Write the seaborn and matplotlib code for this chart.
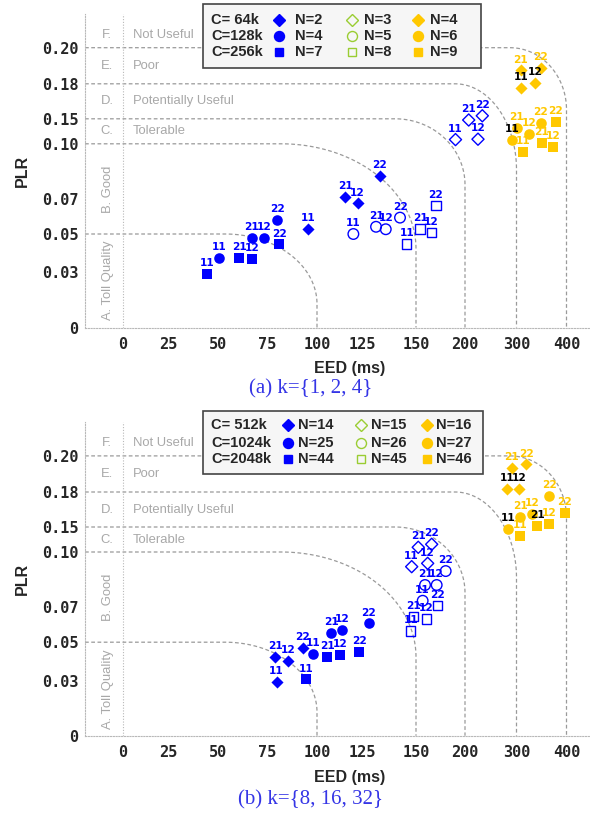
#PLR vs EED scatter, two panels

import numpy as np
import pandas as pd
import matplotlib
matplotlib.use("Agg")
from matplotlib import pyplot as plt
from matplotlib.lines import Line2D
from matplotlib.patches import Rectangle
import seaborn as sns

sns.set_theme(style="white")
plt.rcParams['font.family'] = ['Liberation Sans', 'DejaVu Sans']

#axis break points: tick value -> distance from origin (px)
x_ticks = [0, 25, 50, 75, 100, 125, 150, 200, 300, 400]
x_pos = [0, 45, 95.5, 144.5, 194, 239, 293, 342, 393.5, 443.5]
y_ticks = [0, 0.03, 0.05, 0.07, 0.10, 0.15, 0.18, 0.20]
y_pos = [0, 55, 93.5, 128.7, 183.7, 208.7, 243.7, 279.8]
y_tick_labels = ['0', '0.03', '0.05', '0.07', '0.10', '0.15', '0.18', '0.20']

#quality bands
band_edges = [0, 0.05, 0.10, 0.15, 0.18, 0.20]
band_letters = ['A.', 'B.', 'C.', 'D.', 'E.', 'F.']
band_names = ['Toll Quality', 'Good', 'Tolerable', 'Potentially Useful', 'Poor', 'Not Useful']
band_corner_eed = [100, 150, 200, 300, 400]

#point tags, same order in every series
tags = ['11', '21', '12', '22']

#series order: blue filled D/o/s, hollow D/o/s, gold D/o/s
markers = ['D', 'o', 's'] * 3
kinds = ['filled'] * 3 + ['hollow'] * 3 + ['gold'] * 3

a_cache = ['C= 64k', 'C=128k', 'C=256k']
a_nodes = ['N=2', 'N=4', 'N=7', 'N=3', 'N=5', 'N=8', 'N=4', 'N=6', 'N=9']
a_eed = [[95.6, 115.6, 122.6, 133.3],
         [50.3, 66.9, 73.4, 79.9],
         [44.5, 60.6, 67.2, 81.0],
         [190.3, 207.2, 225.2, 233.6],
         [120.2, 131.5, 136.0, 142.6],
         [145.7, 154.1, 166.0, 170.4],
         [309.6, 309.0, 337.4, 349.0],
         [290.7, 301.0, 324.6, 348.4],
         [313.6, 350.4, 372.4, 378.6]]
a_plr = [[0.0527, 0.0711, 0.0674, 0.0826],
         [0.0377, 0.0478, 0.0478, 0.0580],
         [0.0290, 0.0374, 0.0369, 0.0446],
         [0.1084, 0.1476, 0.1092, 0.1526],
         [0.0500, 0.0541, 0.0527, 0.0593],
         [0.0448, 0.0528, 0.0507, 0.0661],
         [0.1768, 0.1874, 0.1803, 0.1886],
         [0.1084, 0.1326, 0.1194, 0.1422],
         [0.0957, 0.1010, 0.0983, 0.1430]]
a_dark = [(6, '11'), (6, '12'), (7, '11')]

b_cache = ['C= 512k', 'C=1024k', 'C=2048k']
b_nodes = ['N=14', 'N=25', 'N=44', 'N=15', 'N=26', 'N=45', 'N=16', 'N=27', 'N=46']
b_eed = [[79.6, 78.8, 85.5, 92.8],
         [98.1, 107.9, 114.1, 128.2],
         [94.3, 105.7, 112.8, 123.5],
         [148.0, 152.3, 161.9, 166.0],
         [156.8, 159.2, 171.1, 180.3],
         [147.6, 148.8, 160.5, 171.7],
         [281.0, 290.7, 305.0, 319.0],
         [284.1, 307.0, 331.6, 365.6],
         [307.0, 341.6, 365.0, 397.0]]
b_plr = [[0.0295, 0.0425, 0.0402, 0.0471],
         [0.0439, 0.0554, 0.0569, 0.0607],
         [0.0307, 0.0422, 0.0432, 0.0449],
         [0.0920, 0.1094, 0.0938, 0.1154],
         [0.0734, 0.0820, 0.0820, 0.0896],
         [0.0564, 0.0645, 0.0632, 0.0707],
         [0.1815, 0.1935, 0.1815, 0.1953],
         [0.1454, 0.1588, 0.1609, 0.1768],
         [0.1320, 0.1509, 0.1523, 0.1623]]
b_dark = [(6, '11'), (6, '12'), (7, '11'), (8, '21')]

BLUE = '#0000ff'
GOLD = '#ffc800'
GREEN = '#9acd32'
GREY = '#a8a8a8'


def piecewise(knots, pos):
    knots = np.asarray(knots, float)
    pos = np.asarray(pos, float)

    def _map(v, a, b):
        v = np.asarray(v, float)
        out = np.interp(v, a, b)
        out = np.where(v < a[0], b[0] + (v - a[0]) * (b[1] - b[0]) / (a[1] - a[0]), out)
        out = np.where(v > a[-1], b[-1] + (v - a[-1]) * (b[-1] - b[-2]) / (a[-1] - a[-2]), out)
        return out

    return (lambda v: _map(v, knots, pos)), (lambda t: _map(t, pos, knots))


fwd_x, inv_x = piecewise(x_ticks, x_pos)
fwd_y, inv_y = piecewise(y_ticks, y_pos)


def build_frame(eed, plr, dark):
    rows = []
    for gi in range(9):
        for ti, tag in enumerate(tags):
            rows.append({'group': gi, 'tag': tag, 'eed': eed[gi][ti], 'plr': plr[gi][ti],
                         'dark': (gi, tag) in dark})
    return pd.DataFrame(rows)


W, H = 594, 814
fig = plt.figure(figsize=(W / 100, H / 100), dpi=100)

#arc radii of the band corners (px)
arc_r = [(92, 70), (135, 105), (70, 66), (61.5, 86), (56.5, 62)]
X_LEFT, X_RIGHT, Y_TOP = -38, 467, 314
BAND_FONT = dict(color=GREY, fontsize=9.4, family=['Liberation Sans', 'DejaVu Sans'])


def fig_xy(x, y):
    return x / W, 1 - y / H


def draw_panel(ax_bottom_px, eed, plr, dark, cache, nodes, caption, leg):
    ax = fig.add_axes([85 / W, 1 - ax_bottom_px / H, 505 / W, 314 / H])
    df = build_frame(eed, plr, dark)

    for gi in range(9):
        sub = df[df['group'] == gi]
        m = markers[gi]
        size = {'D': 38, 'o': 58, 's': 44}[m]
        col = GOLD if kinds[gi] == 'gold' else BLUE
        if kinds[gi] == 'hollow':
            sns.scatterplot(data=sub, x='eed', y='plr', marker=m, s=size, color=BLUE,
                            facecolor='none', edgecolor=BLUE, linewidth=1.0,
                            ax=ax, legend=False, zorder=4)
        else:
            sns.scatterplot(data=sub, x='eed', y='plr', marker=m, s=size, color=col,
                            edgecolor=col, linewidth=0, ax=ax, legend=False, zorder=4)
        for _, r in sub.iterrows():
            ax.annotate(r['tag'], (r['eed'], r['plr']), xytext=(0, 4.2),
                        textcoords='offset points', ha='center', va='bottom',
                        fontsize=7.6, fontweight='bold', family='DejaVu Sans',
                        color='black' if r['dark'] else col, zorder=5)

    ax.set_xscale('function', functions=(fwd_x, inv_x))
    ax.set_yscale('function', functions=(fwd_y, inv_y))
    ax.set_xlim(float(inv_x(X_LEFT)), float(inv_x(X_RIGHT)))
    ax.set_ylim(0, float(inv_y(Y_TOP)))

    #band boundaries with rounded corners
    ang = np.linspace(0, np.pi / 2, 80)
    for k, x_c in enumerate(band_corner_eed):
        tx, ty = float(fwd_x(x_c)), float(fwd_y(band_edges[k + 1]))
        rx, ry = arc_r[k]
        xs = np.concatenate([[X_LEFT], tx - rx + rx * np.sin(ang), [tx]])
        ys = np.concatenate([[ty], ty - ry + ry * np.cos(ang), [0]])
        ax.plot(inv_x(xs), inv_y(ys), linestyle=(0, (3, 2)), color='#9a9a9a',
                lw=0.9, zorder=1, clip_on=False)

    ax.axvline(0, linestyle=(0, (1, 1.5)), color='#b8b8b8', lw=0.8, zorder=1)

    #band names
    tops = [float(fwd_y(v)) for v in band_edges] + [305]
    for k in range(6):
        yc = float(inv_y((tops[k] + tops[k + 1]) / 2))
        if k < 2:
            ax.text(float(inv_x(-15)), yc, band_letters[k] + ' ' + band_names[k],
                    rotation=90, ha='center', va='center', **BAND_FONT)
        else:
            ax.text(float(inv_x(-16)), yc, band_letters[k], ha='center', va='center',
                    **BAND_FONT)
            ax.text(float(inv_x(9.7)), yc, band_names[k], ha='left', va='center',
                    **BAND_FONT)

    ax.set_xticks(x_ticks)
    ax.set_xticklabels([str(v) for v in x_ticks])
    ax.set_yticks(y_ticks)
    ax.set_yticklabels(y_tick_labels)
    ax.tick_params(axis='both', length=0, labelsize=11)
    ax.tick_params(axis='x', pad=6.5)
    ax.tick_params(axis='y', pad=4.5)
    for lab in ax.get_xticklabels() + ax.get_yticklabels():
        lab.set_fontfamily('DejaVu Sans Mono')
        lab.set_fontweight('bold')
    ax.grid(False)
    for side in ['top', 'right']:
        ax.spines[side].set_visible(False)
    for side in ['left', 'bottom']:
        ax.spines[side].set_linestyle((0, (1, 1.5)))
        ax.spines[side].set_color('#b8b8b8')
        ax.spines[side].set_linewidth(0.8)

    ax.set_xlabel('EED (ms)', fontsize=11.5, fontweight='bold')
    ax.set_ylabel('PLR', fontsize=11.5, fontweight='bold')
    ax.xaxis.set_label_coords(0.525, -0.108)
    ax.yaxis.set_label_coords(-0.110, 0.5)

    #legend box
    x0, y0, x1, y1 = leg['box']
    bx, by = fig_xy(x0, y1)
    fig.add_artist(Rectangle((bx, by), (x1 - x0) / W, (y1 - y0) / H,
                             transform=fig.transFigure, facecolor='#f6f6f6',
                             edgecolor='#444444', lw=1.2, zorder=10))
    for row in range(3):
        yr = leg['rows'][row]
        fig.text(*fig_xy(leg['c'], yr), cache[row], ha='left', va='center',
                 fontsize=10.5, fontweight='bold', zorder=12)
        for col in range(3):
            gi = col * 3 + row
            m = markers[gi]
            ms = {'D': 6.5, 'o': 7.2, 's': 6.0}[m]
            if kinds[gi] == 'hollow':
                fc, ec = 'none', GREEN
            else:
                fc = ec = GOLD if kinds[gi] == 'gold' else BLUE
            fig.add_artist(Line2D([fig_xy(leg['m'][col], yr)[0]], [fig_xy(0, yr)[1]],
                                  transform=fig.transFigure, marker=m, ms=ms,
                                  mfc=fc, mec=ec, mew=1.0, linestyle='none', zorder=12))
            fig.text(*fig_xy(leg['t'][col], yr), nodes[gi], ha='left', va='center',
                     fontsize=10.5, fontweight='bold', zorder=12)

    fig.text(*fig_xy(311, caption[1]), caption[0], ha='center', va='center',
             fontsize=15, color='#3535e6', family='Liberation Serif')
    return ax


leg_a = {'box': (203, 4, 481, 68.3), 'rows': [20, 36, 51.7], 'c': 211,
         'm': [279.3, 352.3, 418.3], 't': [295, 364, 430]}
leg_b = {'box': (203, 411, 483.3, 474), 'rows': [425, 442.7, 459.3], 'c': 211,
         'm': [288.3, 360.7, 426.7], 't': [298.3, 371, 436]}

draw_panel(327.5, a_eed, a_plr, a_dark, a_cache, a_nodes, ('(a) k={1, 2, 4}', 389), leg_a)
draw_panel(735.7, b_eed, b_plr, b_dark, b_cache, b_nodes, ('(b) k={8, 16, 32}', 800), leg_b)

fig.savefig('out.png', dpi=100)
